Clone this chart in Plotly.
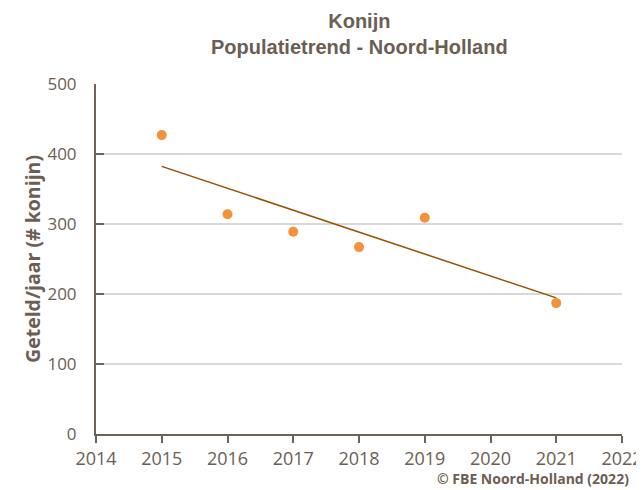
import numpy as np
import plotly.graph_objects as go

YEARS = [2015, 2016, 2017, 2018, 2019, 2021]
COUNTS = [427, 314, 289, 267, 309, 187]

TEXT = "#6b5e54"
AXIS = "#6e6259"
DOT = "#f39237"
TREND = "#9a4f00"

# linear trend through the counts
slope, icpt = np.polyfit(YEARS, COUNTS, 1)
trend_x = [YEARS[0], YEARS[-1]]
trend_y = [slope * x + icpt for x in trend_x]

fig = go.Figure()
fig.add_trace(go.Scatter(x=trend_x, y=trend_y, mode="lines",
                         line=dict(color=TREND, width=1.5), hoverinfo="skip"))
fig.add_trace(go.Scatter(x=YEARS, y=COUNTS, mode="markers",
                         marker=dict(color=DOT, size=10)))

fig.update_layout(
    width=644, height=490,
    margin=dict(l=88, r=30, t=76, b=64, autoexpand=False),
    paper_bgcolor="white", plot_bgcolor="white",
    showlegend=False,
    font=dict(family="Open Sans", color=TEXT, size=18),
    xaxis=dict(range=[2014, 2022], dtick=1, showgrid=False, zeroline=False,
               showline=True, linecolor=AXIS, linewidth=2, automargin=False,
               ticks="outside", ticklen=7, tickwidth=2, tickcolor=AXIS,
               tickfont=dict(size=18, color=TEXT)),
    yaxis=dict(range=[0, 500], dtick=100, showgrid=True, gridcolor="#d9d9d9",
               gridwidth=1.5, zeroline=False, automargin=False,
               showline=True, linecolor=AXIS, linewidth=2,
               ticks="inside", ticklen=8, tickwidth=2, tickcolor=AXIS,
               ticklabelstandoff=14,
               tickfont=dict(size=17, color=TEXT),
               title=dict(text="<b>Geteld/jaar (# konijn)</b>", standoff=2,
                          font=dict(size=19.5, color=TEXT))),
    annotations=[
        dict(text="<b>Konijn<br>Populatietrend - Noord-Holland</b>",
             xref="paper", yref="paper", x=0.5, y=1 + 76 / 350,
             xanchor="center", yanchor="top", showarrow=False,
             font=dict(family="Liberation Sans", size=20, color=TEXT)),
        dict(text="<b>© FBE Noord-Holland (2022)</b>", xref="paper", yref="paper",
             x=1.017, y=-0.16, xanchor="right", yanchor="bottom", showarrow=False,
             font=dict(size=14, color=TEXT)),
    ],
)

fig.write_html("out.html")
